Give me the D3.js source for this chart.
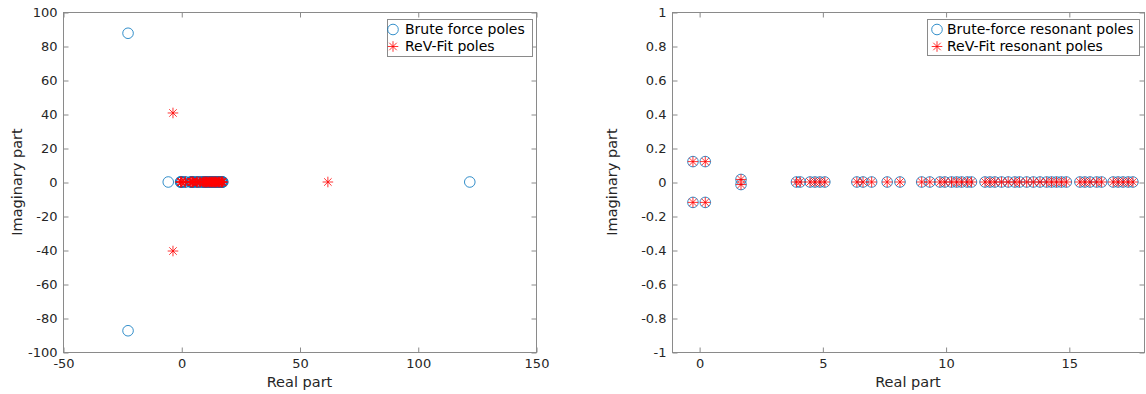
<!DOCTYPE html>
<html>
<head>
<meta charset="utf-8">
<script src="https://cdn.jsdelivr.net/npm/d3@7"></script>
<style>
  html, body { margin: 0; padding: 0; background: #fff; }
  svg { display: block; font-family: "DejaVu Sans", sans-serif; }
</style>
</head>
<body>
<svg id="chart" width="1146" height="394"></svg>
<script>
// Resonant poles (real / imaginary parts) found by both methods
const resonantRe = [-0.25, -0.25, 0.25, 0.25, 1.7, 1.7,
  3.95, 4.1, 4.5, 4.7, 4.9, 5.1, 6.4, 6.65, 7.0, 7.63, 8.15, 9.03, 9.36,
  9.77, 9.97, 10.24, 10.45, 10.65, 10.88, 11.05,
  11.6, 11.8, 12.0, 12.27, 12.54, 12.81, 13.0, 13.29, 13.56, 13.83, 14.1, 14.3, 14.5, 14.7, 14.9,
  15.45, 15.65, 15.86, 16.13, 16.33, 16.8, 17.0, 17.2, 17.41, 17.6];
const resonantIm = [0.12, -0.12, 0.12, -0.12, 0.015, -0.015,
  0, 0, 0, 0, 0, 0, 0, 0, 0, 0, 0, 0, 0,
  0, 0, 0, 0, 0, 0, 0,
  0, 0, 0, 0, 0, 0, 0, 0, 0, 0, 0, 0, 0, 0, 0,
  0, 0, 0, 0, 0, 0, 0, 0, 0, 0];
const fitResonantRe = resonantRe.slice();
const fitResonantIm = resonantIm.slice();

// Additional (non-resonant) poles shown in the full pole map
const bruteExtraRe = [-22.5, -22.5, -5.5, 122];
const bruteExtraIm = [87.5, -87.5, 0, 0];
const fitExtraRe = [-3.5, -3.5, 62];
const fitExtraIm = [40.6, -40.6, 0];

// Axis ticks
const leftXTicks = [-50, 0, 50, 100, 150];
const leftXTickLabels = ["-50", "0", "50", "100", "150"];
const leftYTicks = [-100, -80, -60, -40, -20, 0, 20, 40, 60, 80, 100];
const leftYTickLabels = ["-100", "-80", "-60", "-40", "-20", "0", "20", "40", "60", "80", "100"];
const rightXTicks = [0, 5, 10, 15];
const rightXTickLabels = ["0", "5", "10", "15"];
const rightYTicks = [-1, -0.8, -0.6, -0.4, -0.2, 0, 0.2, 0.4, 0.6, 0.8, 1];
const rightYTickLabels = ["-1", "-0.8", "-0.6", "-0.4", "-0.2", "0", "0.2", "0.4", "0.6", "0.8", "1"];

const leftLegend = ["Brute force poles", "ReV-Fit poles"];
const rightLegend = ["Brute-force resonant poles", "ReV-Fit resonant poles"];

const AXIS = "#8a8a8a", TEXT = "#262626", BLUE = "#0072BD", RED = "#FF0000";
const TICK = 5, R = 5.3;

const svg = d3.select("#chart");

function asterisk(r) {
  const a = r * Math.SQRT1_2;
  return `M${-r},0L${r},0M0,${-r}L0,${r}M${-a},${-a}L${a},${a}M${-a},${a}L${a},${-a}`;
}

function panel(cfg) {
  const x = d3.scaleLinear().domain(cfg.xDomain).range([cfg.x0, cfg.x1]);
  const y = d3.scaleLinear().domain(cfg.yDomain).range([cfg.y1, cfg.y0]);
  const g = svg.append("g");

  g.append("rect")
    .attr("x", cfg.x0 + 0.5).attr("y", cfg.y0 + 0.5)
    .attr("width", cfg.x1 - cfg.x0).attr("height", cfg.y1 - cfg.y0)
    .attr("fill", "#fff").attr("stroke", AXIS).attr("stroke-width", 1);

  const style = sel => {
    sel.select(".domain").remove();
    sel.selectAll(".tick line").attr("stroke", AXIS).attr("stroke-width", 1);
    sel.selectAll(".tick text").attr("fill", TEXT).attr("font-size", 13)
      .attr("font-family", "DejaVu Sans, sans-serif");
  };

  g.append("g").attr("transform", `translate(0.5,${cfg.y1 + 0.5})`)
    .call(d3.axisBottom(x).tickValues(cfg.xTicks).tickFormat((d, i) => cfg.xLabels[i])
      .tickSizeInner(-TICK).tickSizeOuter(0).tickPadding(6))
    .call(style);
  g.append("g").attr("transform", `translate(0.5,${cfg.y0 + 0.5})`)
    .call(d3.axisTop(x).tickValues(cfg.xTicks).tickFormat("")
      .tickSizeInner(-TICK).tickSizeOuter(0))
    .call(style);
  g.append("g").attr("transform", `translate(${cfg.x0 + 0.5},0.5)`)
    .call(d3.axisLeft(y).tickValues(cfg.yTicks).tickFormat((d, i) => cfg.yLabels[i])
      .tickSizeInner(-TICK).tickSizeOuter(0).tickPadding(6))
    .call(style);
  g.append("g").attr("transform", `translate(${cfg.x1 + 0.5},0.5)`)
    .call(d3.axisRight(y).tickValues(cfg.yTicks).tickFormat("")
      .tickSizeInner(-TICK).tickSizeOuter(0))
    .call(style);

  // axis titles
  g.append("text")
    .attr("x", (cfg.x0 + cfg.x1) / 2).attr("y", 387)
    .attr("text-anchor", "middle").attr("font-size", 14.5).attr("fill", TEXT)
    .text("Real part");
  g.append("text")
    .attr("transform", `translate(${cfg.yLabelX},${(cfg.y0 + cfg.y1) / 2}) rotate(-90)`)
    .attr("text-anchor", "middle").attr("font-size", 14.5).attr("fill", TEXT)
    .text("Imaginary part");

  // brute-force poles: open circles
  g.append("g").selectAll("circle")
    .data(d3.zip(cfg.bRe, cfg.bIm))
    .join("circle")
    .attr("cx", d => x(d[0])).attr("cy", d => y(d[1])).attr("r", R)
    .attr("fill", "none").attr("stroke", BLUE).attr("stroke-width", 0.8);

  // fitted poles: asterisks
  g.append("g").selectAll("path")
    .data(d3.zip(cfg.fRe, cfg.fIm))
    .join("path")
    .attr("transform", d => `translate(${x(d[0])},${y(d[1])})`)
    .attr("d", asterisk(R))
    .attr("fill", "none").attr("stroke", RED).attr("stroke-width", 0.8);

  // legend
  const L = cfg.legend;
  const lg = g.append("g");
  lg.append("rect")
    .attr("x", L.x0 + 0.5).attr("y", L.y0 + 0.5)
    .attr("width", L.x1 - L.x0).attr("height", L.y1 - L.y0)
    .attr("fill", "#fff").attr("stroke", AXIS).attr("stroke-width", 1);
  lg.append("circle").attr("cx", L.iconX).attr("cy", L.rows[0]).attr("r", R)
    .attr("fill", "none").attr("stroke", BLUE).attr("stroke-width", 0.8);
  lg.append("path").attr("transform", `translate(${L.iconX},${L.rows[1]})`)
    .attr("d", asterisk(R)).attr("fill", "none").attr("stroke", RED).attr("stroke-width", 0.8);
  lg.selectAll("text.entry").data(cfg.legendText).join("text")
    .attr("class", "entry")
    .attr("x", L.textX).attr("y", (d, i) => L.rows[i])
    .attr("dy", "0.35em").attr("font-size", 14).attr("fill", "#000")
    .text(d => d);
}

panel({
  x0: 63, x1: 536, y0: 12, y1: 352,
  xDomain: [-50, 150], yDomain: [-100, 100],
  xTicks: leftXTicks, xLabels: leftXTickLabels,
  yTicks: leftYTicks, yLabels: leftYTickLabels,
  yLabelX: 22,
  bRe: bruteExtraRe.concat(resonantRe), bIm: bruteExtraIm.concat(resonantIm),
  fRe: fitExtraRe.concat(fitResonantRe), fIm: fitExtraIm.concat(fitResonantIm),
  legend: { x0: 387, x1: 532, y0: 19, y1: 56, iconX: 393, textX: 405, rows: [29.5, 46.5] },
  legendText: leftLegend
});

panel({
  x0: 672, x1: 1144, y0: 12, y1: 352,
  xDomain: [-1.1, 18.05], yDomain: [-1, 1],
  xTicks: rightXTicks, xLabels: rightXTickLabels,
  yTicks: rightYTicks, yLabels: rightYTickLabels,
  yLabelX: 617,
  bRe: resonantRe, bIm: resonantIm,
  fRe: fitResonantRe, fIm: fitResonantIm,
  legend: { x0: 927, x1: 1139, y0: 19, y1: 55, iconX: 937, textX: 947, rows: [29.5, 46.5] },
  legendText: rightLegend
});
</script>
</body>
</html>
